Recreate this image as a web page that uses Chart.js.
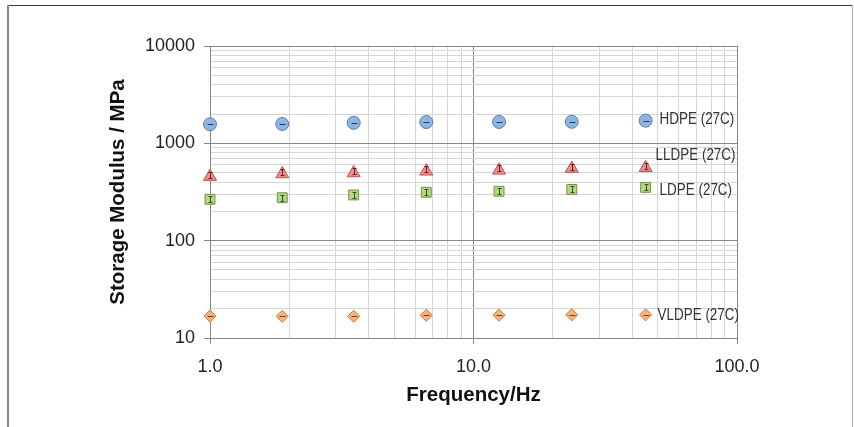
<!DOCTYPE html>
<html>
<head>
<meta charset="utf-8">
<script src="https://cdn.jsdelivr.net/npm/chart.js@4"></script>
<style>
html, body { margin: 0; padding: 0; background: #fff; }
</style>
</head>
<body>
<canvas id="chart" width="854" height="427"></canvas>
<script>
// Frequency (Hz) of each measurement
var frequencies = [1.0, 1.88, 3.51, 6.62, 12.5, 23.6, 45.0];

// Storage modulus (MPa) per material
var hdpe = [1570, 1580, 1625, 1655, 1660, 1665, 1710];
var lldpe = [455, 484, 496, 516, 528, 551, 561];
var ldpe = [266, 276, 295, 314, 322, 336, 353];
var vldpe = [16.8, 16.7, 16.7, 17.1, 17.15, 17.3, 17.3];

var seriesNames = ['HDPE (27C)', 'LLDPE (27C)', 'LDPE (27C)', 'VLDPE (27C)'];

// Log axis decades and minor steps (gridlines)
var xDecades = [1, 10];
var xMax = 100;
var yDecades = [10, 100, 1000];
var yMax = 10000;
var minorSteps = [1, 2, 3, 4, 5, 6, 7, 8, 9];

function logTicks(decades, max) {
	var out = [];
	decades.forEach(function(d) {
		minorSteps.forEach(function(s) { out.push(d * s); });
	});
	out.push(max);
	return out;
}

var xTickValues = logTicks(xDecades, xMax);
var yTickValues = logTicks(yDecades, yMax);

function isMajor(v) {
	if (!v) return false;
	var l = Math.log10(v);
	return Math.abs(l - Math.round(l)) < 1e-9;
}

function points(values) {
	return frequencies.map(function(f, i) { return { x: f, y: values[i] }; });
}

var MAJOR = '#868686';
var MINOR = '#d6d6d6';
var FONT = '"Liberation Sans", Arial, sans-serif';

// White page, outer frame lines
var framePlugin = {
	id: 'frame',
	beforeDraw: function(chart) {
		var ctx = chart.ctx;
		ctx.save();
		ctx.fillStyle = '#fff';
		ctx.fillRect(0, 0, chart.width, chart.height);
		ctx.lineWidth = 1;
		ctx.strokeStyle = '#3a3a3a';
		ctx.beginPath();
		ctx.moveTo(7, 5.5);
		ctx.lineTo(853, 5.5);
		ctx.stroke();
		ctx.strokeStyle = '#8a8a8a';
		ctx.lineWidth = 2;
		ctx.beginPath();
		ctx.moveTo(8, 5);
		ctx.lineTo(8, chart.height);
		ctx.stroke();
		ctx.strokeStyle = '#b0b0b0';
		ctx.lineWidth = 1;
		ctx.beginPath();
		ctx.moveTo(852.5, 5);
		ctx.lineTo(852.5, chart.height);
		ctx.stroke();
		ctx.restore();
	}
};

// Small error-bar glyphs inside the markers + series tags at the last point
var markPlugin = {
	id: 'marks',
	afterDatasetsDraw: function(chart) {
		var ctx = chart.ctx;
		ctx.save();
		chart.data.datasets.forEach(function(ds, di) {
			var meta = chart.getDatasetMeta(di);
			ctx.strokeStyle = ds.glyphColor;
			ctx.lineWidth = 1;
			meta.data.forEach(function(pt) {
				var x = Math.round(pt.x) + 0.5, y = Math.round(pt.y) + 0.5 + (ds.glyphDy || 0);
				ctx.beginPath();
				if (ds.glyph === 'dash') {
					ctx.moveTo(x - 3, y);
					ctx.lineTo(x + 3, y);
				} else {
					ctx.moveTo(x, y - 3);
					ctx.lineTo(x, y + 3);
					ctx.moveTo(x - 2, y - 3);
					ctx.lineTo(x + 2, y - 3);
					ctx.moveTo(x - 2, y + 3);
					ctx.lineTo(x + 2, y + 3);
				}
				ctx.stroke();
			});
			// tag text is narrow in the original, so squeeze it horizontally
			var last = meta.data[meta.data.length - 1];
			ctx.save();
			ctx.translate(last.x + ds.tagDx, last.y + ds.tagDy);
			ctx.scale(0.79, 1);
			ctx.fillStyle = '#333';
			ctx.font = '17px ' + FONT;
			ctx.textAlign = 'left';
			ctx.textBaseline = 'middle';
			ctx.fillText(ds.label, 0, 0);
			ctx.restore();
		});
		ctx.restore();
	}
};

var chart = new Chart(document.getElementById('chart').getContext('2d'), {
	type: 'scatter',
	data: {
		datasets: [
			{
				label: seriesNames[0],
				data: points(hdpe),
				pointStyle: 'circle',
				pointRadius: 6.5,
				backgroundColor: '#8fb5df',
				borderColor: '#4f81bd',
				glyph: 'dash',
				glyphColor: '#1f3a60',
				tagDx: 14, tagDy: -1
			},
			{
				label: seriesNames[1],
				data: points(lldpe),
				pointStyle: 'triangle',
				pointRadius: 7.5,
				backgroundColor: '#ec8e8d',
				borderColor: '#c0504d',
				glyph: 'ibeam',
				glyphDy: -2,
				glyphColor: '#6b1f1d',
				tagDx: 10, tagDy: -12.5
			},
			{
				label: seriesNames[2],
				data: points(ldpe),
				pointStyle: 'rect',
				pointRadius: 7,
				backgroundColor: '#b3d58a',
				borderColor: '#77933c',
				glyph: 'ibeam',
				glyphColor: '#3b4f1a',
				tagDx: 14, tagDy: 2.5
			},
			{
				label: seriesNames[3],
				data: points(vldpe),
				pointStyle: 'rectRot',
				pointRadius: 6,
				backgroundColor: '#f5b283',
				borderColor: '#d9782f',
				glyph: 'dash',
				glyphColor: '#7a3b0d',
				tagDx: 12, tagDy: 0.7
			}
		]
	},
	options: {
		responsive: false,
		animation: false,
		layout: { padding: { left: 106, right: 117, top: 46, bottom: 19 } },
		elements: { point: { borderWidth: 1, hoverRadius: 6 } },
		datasets: { scatter: { clip: false, showLine: false } },
		plugins: {
			legend: { display: false },
			tooltip: { enabled: false }
		},
		scales: {
			x: {
				type: 'logarithmic',
				min: 1,
				max: xMax,
				afterBuildTicks: function(s) {
					s.ticks = xTickValues.map(function(v) { return { value: v }; });
				},
				afterFit: function(s) { s.height = 70; },
				ticks: {
					autoSkip: false,
					maxRotation: 0,
					padding: 12,
					color: '#222',
					font: { family: FONT, size: 18 },
					callback: function(v) { return isMajor(v) ? v.toFixed(1) : ''; }
				},
				grid: {
					color: function(c) { return isMajor(c.tick && c.tick.value) ? MAJOR : MINOR; },
					tickColor: function(c) { return isMajor(c.tick && c.tick.value) ? MAJOR : 'rgba(0,0,0,0)'; },
					tickLength: 6
				},
				border: { color: MAJOR },
				title: {
					display: true,
					text: 'Frequency/Hz',
					color: '#111',
					padding: 0,
					font: { family: FONT, size: 20.5, weight: 'bold' }
				}
			},
			y: {
				type: 'logarithmic',
				min: 10,
				max: yMax,
				afterBuildTicks: function(s) {
					s.ticks = yTickValues.map(function(v) { return { value: v }; });
				},
				afterFit: function(s) { s.width = 104; },
				ticks: {
					autoSkip: false,
					padding: 9,
					color: '#222',
					font: { family: FONT, size: 18 },
					callback: function(v) { return isMajor(v) ? String(v) : ''; }
				},
				grid: {
					color: function(c) { return isMajor(c.tick && c.tick.value) ? MAJOR : MINOR; },
					tickColor: function(c) { return isMajor(c.tick && c.tick.value) ? MAJOR : 'rgba(0,0,0,0)'; },
					tickLength: 6
				},
				border: { color: MAJOR },
				title: {
					display: true,
					text: 'Storage Modulus / MPa',
					color: '#111',
					padding: 0,
					font: { family: FONT, size: 20.5, weight: 'bold' }
				}
			}
		}
	},
	plugins: [framePlugin, markPlugin]
});
</script>
</body>
</html>
